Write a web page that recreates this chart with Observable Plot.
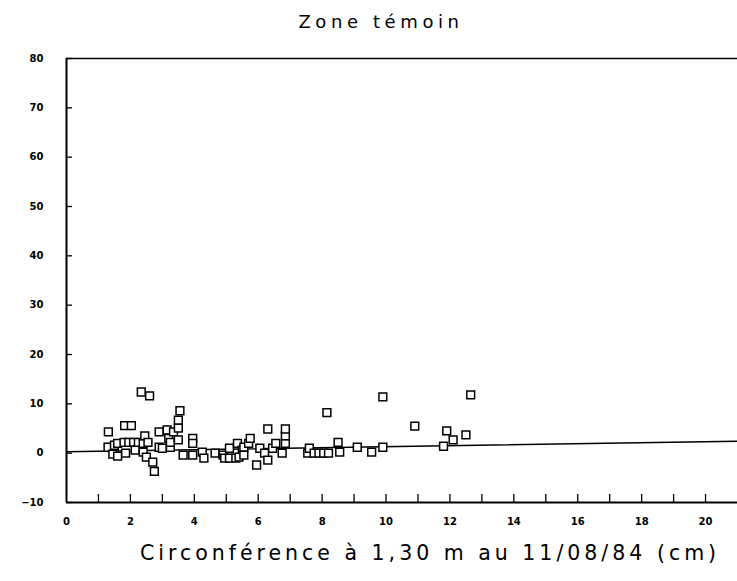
<!DOCTYPE html>
<html>
<head>
<meta charset="utf-8">
<script src="https://cdn.jsdelivr.net/npm/d3@7"></script>
<script src="https://cdn.jsdelivr.net/npm/@observablehq/plot@0.6"></script>
<style>
  html, body { margin: 0; padding: 0; background: #fff; }
  #chart svg { display: block; }
</style>
</head>
<body>
<div id="chart"></div>
<script>
const titleText = "Zone témoin";
const xLabelText = "Circonférence à 1,30 m au 11/08/84 (cm)";

const circ = [1.31,1.3,1.45,1.5,1.6,1.6,1.8,1.82,1.85,1.95,2.03,2.1,2.15,2.25,2.34,2.4,2.4,2.45,2.5,2.55,2.6,2.7,2.75,2.9,2.9,3.0,3.15,3.2,3.25,3.25,3.35,3.5,3.5,3.55,3.5,3.65,3.95,3.95,3.95,4.25,4.3,4.65,4.9,4.95,5.1,5.1,5.3,5.35,5.5,5.55,5.4,5.55,5.7,5.75,5.95,6.05,6.2,6.3,6.3,6.45,6.55,6.75,6.85,6.85,6.85,7.55,7.6,7.75,7.9,8.05,8.15,8.2,8.5,8.55,9.1,9.55,9.9,9.9,10.9,11.8,11.9,12.1,12.5,12.65];
const accr = [4.3,1.2,-0.2,1.6,2.0,-0.6,2.2,5.6,0,2.2,5.6,2.2,0.6,2.2,12.4,2.0,0.2,3.5,-0.8,2.2,11.6,-1.8,-3.7,4.3,1.2,1.0,4.7,3.0,1.2,2.2,4.3,5.1,6.7,8.6,2.7,-0.4,3.0,2.0,-0.4,0.2,-1.0,0,-0.4,-1.0,-1.0,1.0,-1.0,2.0,0.6,1.2,-0.8,-0.4,2.0,3.0,-2.4,1.0,0,-1.4,4.9,1.0,2.0,0,2.0,3.5,4.9,0,1.0,0,0,0,8.2,0,2.2,0.2,1.2,0.2,1.2,11.4,5.5,1.4,4.5,2.7,3.7,11.8];

const fitX = [0, 21];
const fitY = [0.3, 2.4];

const xLabelTicks = d3.range(0, 21, 2);
const xMinorTicks = d3.range(1, 21, 1);
const yTicks = d3.range(-10, 81, 10);

const points = circ.map((c, i) => ({x: c, y: accr[i]}));
const fit = fitX.map((x, i) => ({x, y: fitY[i]}));

const chart = Plot.plot({
  width: 737,
  height: 581,
  marginLeft: 66,
  marginRight: 0,
  marginTop: 58,
  marginBottom: 79,
  style: {fontFamily: "DejaVu Sans", color: "#000", background: "#fff"},
  x: {domain: [0, 21], label: null},
  y: {domain: [-10, 80], label: null},
  marks: [
    Plot.axisX({ticks: xMinorTicks, tickSize: -8, tickFormat: () => "", strokeWidth: 1.3, label: null}),
    Plot.axisX({ticks: xLabelTicks, tickSize: 0, tickPadding: 15, fontSize: 10, fontWeight: "bold", label: null}),
    Plot.axisY({ticks: yTicks, tickSize: -6, tickFormat: () => "", strokeWidth: 1.3, label: null}),
    Plot.axisY({ticks: yTicks, tickSize: 0, tickPadding: 23, fontSize: 10, fontWeight: "bold", label: null}),
    Plot.ruleX([0], {strokeWidth: 2}),
    Plot.ruleY([-10], {strokeWidth: 2}),
    Plot.ruleY([80], {strokeWidth: 1.5}),
    Plot.line(fit, {x: "x", y: "y", stroke: "#000", strokeWidth: 1.5}),
    Plot.dot(points, {x: "x", y: "y", symbol: "square", r: 4.4, fill: "#fff", stroke: "#000", strokeWidth: 1.5}),
    Plot.text([titleText], {frameAnchor: "top", dx: -21, dy: -43, fontSize: 18, text: d => d}),
    Plot.text([xLabelText], {frameAnchor: "bottom", dx: 28, dy: 57, fontSize: 20.5, text: d => d})
  ]
});

d3.select(chart).selectAll("text").each(function() {
  const t = this.textContent;
  if (t === titleText) this.setAttribute("letter-spacing", "4.6");
  if (t === xLabelText) this.setAttribute("letter-spacing", "4");
});

document.getElementById("chart").appendChild(chart);
</script>
</body>
</html>
